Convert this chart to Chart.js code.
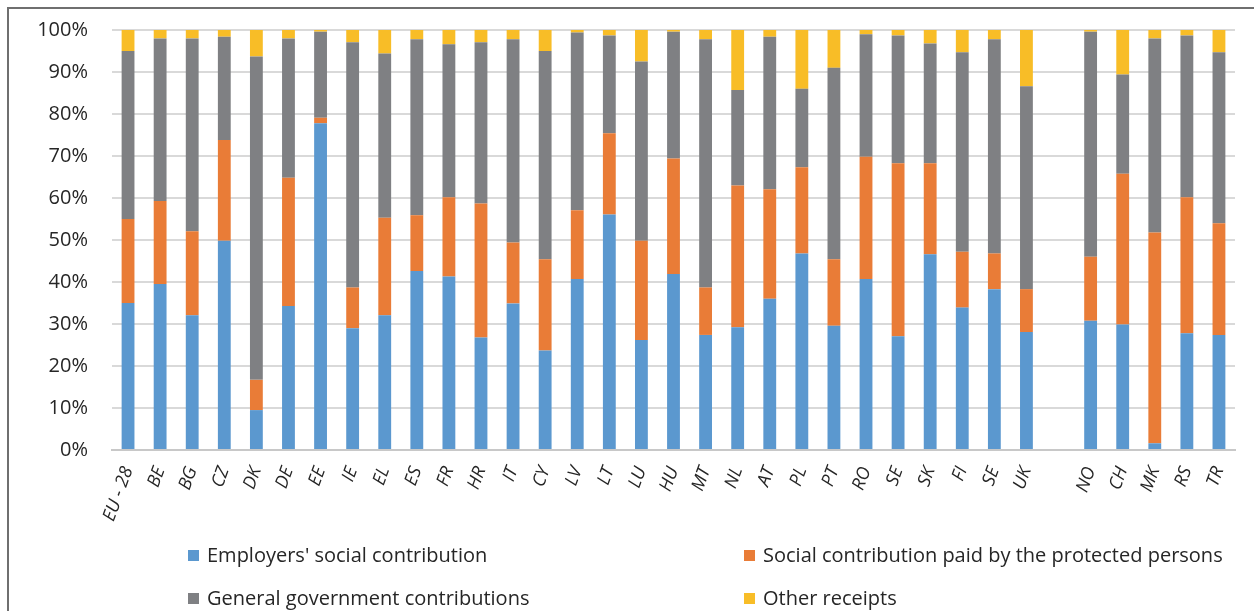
<!DOCTYPE html>
<html>
<head>
<meta charset="utf-8">
<script src="https://cdn.jsdelivr.net/npm/chart.js@4.4.1/dist/chart.umd.min.js"></script>
<style>
  html, body { margin: 0; padding: 0; background: #fff; }
  #wrap { position: relative; width: 1254px; height: 611px; overflow: hidden; background: #fff; }
  #frame { position: absolute; left: 7px; top: 7px; width: 1400px; height: 700px;
           border-left: 2px solid #6f6f6f; border-top: 2px solid #6f6f6f; }
  canvas { position: absolute; left: 0; top: -6px; }
  .leg { position: absolute; font-family: "Open Sans", Lato, sans-serif; font-size: 20px;
         color: #262626; white-space: nowrap; line-height: 24px; }
  .leg i { position: absolute; left: -19px; top: 7px; width: 11px; height: 11px; }
</style>
</head>
<body>
<div id="wrap">
  <div id="frame"></div>
  <canvas id="c" width="1254" height="617"></canvas>
  <div id="legend"></div>
</div>
<script>
// Country codes along the x axis (blank slot separates EU members from the others)
const categories = ['EU - 28','BE','BG','CZ','DK','DE','EE','IE','EL','ES','FR','HR','IT','CY','LV','LT','LU','HU','MT','NL','AT','PL','PT','RO','SE','SK','FI','SE','UK','','NO','CH','MK','RS','TR'];

// Shares of social protection receipts, in %
const employers  = [35.0,39.5,32.1,49.8, 9.5,34.3,77.8,29.0,32.1,42.6,41.3,26.8,34.9,23.7,40.7,56.1,26.2,41.9,27.4,29.2,36.0,46.8,29.6,40.7,27.1,46.6,33.9,38.3,28.1,null,30.8,29.9, 1.6,27.8,27.4];
const protectedP = [20.0,19.8,20.0,24.0, 7.2,30.5, 1.3, 9.7,23.2,13.3,18.9,31.9,14.5,21.7,16.4,19.3,23.6,27.5,11.3,33.8,26.1,20.5,15.8,29.1,41.2,21.7,13.3, 8.5,10.2,null,15.2,35.9,50.2,32.4,26.6];
const government = [40.0,38.7,45.9,24.6,77.0,33.2,20.5,58.4,39.1,41.9,36.4,38.4,48.4,49.6,42.3,23.3,42.7,30.2,59.1,22.7,36.3,18.7,45.6,29.2,30.4,28.5,47.5,51.0,48.3,null,53.6,23.6,46.2,38.5,40.7];
const other      = [ 5.0, 2.0, 2.0, 1.6, 6.3, 2.0, 0.4, 2.9, 5.6, 2.2, 3.4, 2.9, 2.2, 5.0, 0.6, 1.3, 7.5, 0.4, 2.2,14.3, 1.6,14.0, 9.0, 1.0, 1.3, 3.2, 5.3, 2.2,13.4,null, 0.4,10.6, 2.0, 1.3, 5.3];

const seriesNames = ["Employers' social contribution", 'Social contribution paid by the protected persons', 'General government contributions', 'Other receipts'];
const yTicks = [0,10,20,30,40,50,60,70,80,90,100];

const colors = ['#5b98cf', '#e97c37', '#7f8083', '#f8bd27'];
const seriesData = [employers, protectedP, government, other];

const datasets = seriesData.map((d, i) => ({
  label: seriesNames[i],
  data: d,
  backgroundColor: colors[i],
  borderWidth: 0,
  barPercentage: 0.4,
  categoryPercentage: 1.0
}));

new Chart(document.getElementById('c'), {
  type: 'bar',
  data: { labels: categories, datasets },
  options: {
    responsive: false,
    animation: false,
    layout: { padding: { left: 0, right: 19, top: 18, bottom: 0 } },
    plugins: { legend: { display: false }, tooltip: { enabled: false } },
    scales: {
      x: {
        stacked: true,
        grid: { display: false },
        border: { color: '#c8c8c8', width: 2 },
        ticks: {
          minRotation: 70, maxRotation: 70, autoSkip: false, padding: 6,
          color: '#262626',
          font: { family: '"Open Sans", Lato, sans-serif', size: 18, style: 'italic' }
        },
        afterFit: s => { s.height = 161; }
      },
      y: {
        stacked: true,
        min: 0, max: 100,
        afterBuildTicks: s => { s.ticks = yTicks.map(v => ({ value: v })); },
        grid: { color: '#d9d9d9', lineWidth: 2, drawTicks: false },
        border: { display: false },
        ticks: {
          padding: 24, color: '#262626',
          font: { family: '"Open Sans", Lato, sans-serif', size: 20 },
          callback: v => v + '%'
        },
        afterFit: s => { s.width = 112; }
      }
    }
  }
});

// Two-column legend under the plot
const legendPos = [[207, 543], [763, 543], [207, 586], [763, 586]];
const legend = document.getElementById('legend');
seriesNames.forEach((name, k) => {
  const el = document.createElement('div');
  el.className = 'leg';
  el.style.left = legendPos[k][0] + 'px';
  el.style.top = legendPos[k][1] + 'px';
  const sw = document.createElement('i');
  sw.style.background = colors[k];
  el.appendChild(sw);
  el.appendChild(document.createTextNode(name));
  legend.appendChild(el);
});
</script>
</body>
</html>
